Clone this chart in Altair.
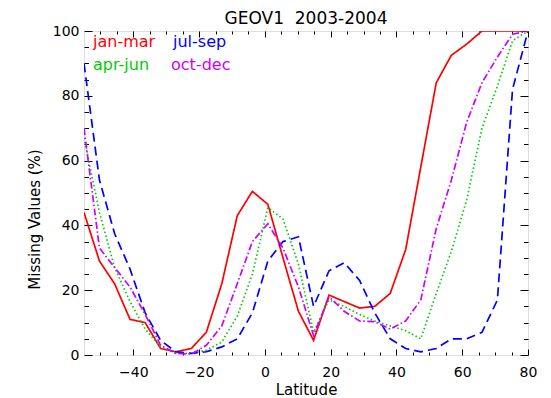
import altair as alt
import pandas as pd

# ---- data ----
lat = [-55.0, -50.3, -45.7, -41.0, -36.4, -31.7, -27.1, -22.4, -17.8, -13.1,
       -8.4, -3.8, 0.9, 5.5, 10.2, 14.8, 19.5, 24.1, 28.8, 33.4,
       38.1, 42.8, 47.4, 52.1, 56.7, 61.4, 66.0, 70.7, 75.3, 80.0]

jan_mar = [44, 29, 22, 11, 10, 2, 1, 2, 7, 22,
           43, 50.5, 46.5, 30, 13.5, 4.5, 18.5, 16.5, 14.5, 15,
           19, 32.5, 58, 84, 92.5, 96, 100, 100, 100, 100]
apr_jun = [67, 44, 27, 16.5, 8, 2.5, 0.5, 0.5, 1.5, 4,
           12, 25, 45.5, 42, 28, 7, 17, 15, 12.5, 10.5,
           9, 7.5, 5, 19, 32, 48, 70, 83, 97, 100]
jul_sep = [90, 54, 37.5, 26.5, 13, 4.5, 1, 0.5, 1, 2.5,
           5, 13, 29, 35, 36.5, 15, 26, 28.5, 23, 13,
           5, 2, 1, 2, 5, 5, 7, 17, 82, 100]
oct_dec = [70, 33, 27, 21, 12.5, 3, 0.5, 0.3, 3, 9,
           22, 35, 40.5, 33, 21, 6, 18, 13.5, 10.5, 10.3,
           8, 10.5, 17, 39, 54, 72, 84, 92, 99, 100]

seasons = ["jan-mar", "apr-jun", "jul-sep", "oct-dec"]
series = {"jan-mar": jan_mar, "apr-jun": apr_jun, "jul-sep": jul_sep, "oct-dec": oct_dec}

x_major = [-40, -20, 0, 20, 40, 60, 80]
x_minor = [-50, -45, -35, -30, -25, -15, -10, -5, 5, 10, 15, 25, 30, 35, 45, 50, 55, 65, 70, 75]
y_major = [0, 20, 40, 60, 80, 100]
y_minor = [5, 10, 15, 25, 30, 35, 45, 50, 55, 65, 70, 75, 85, 90, 95]

title_text = "GEOV1\u00a0\u00a02003-2004"

rows = []
for name in seasons:
    for la, v in zip(lat, series[name]):
        rows.append({"lat": la, "val": v, "season": name})
df = pd.DataFrame(rows)

# ---- styling ----
colors = ["#FF0000", "#00CC00", "#0000FF", "#CC00FF"]
dashes = [[1, 0], [1.5, 2.5], [9, 5], [7, 2.5, 1.5, 2.5]]
FONT = "DejaVu Sans"
W, H = 444, 324

x_scale = alt.Scale(domain=[-55, 80], nice=False, zero=False)
y_scale = alt.Scale(domain=[0, 100], nice=False, zero=False)

base = alt.Chart(df)

lines = base.mark_line(strokeWidth=1.7, clip=True).encode(
    x=alt.X("lat:Q", scale=x_scale,
            axis=alt.Axis(orient="bottom", values=x_major, ticks=False, tickSize=0,
                          domain=False, grid=False, labelFlush=False,
                          labelPadding=10, labelFontSize=14, labelFont=FONT,
                          labelColor="black",
                          title="Latitude", titleFontSize=15, titleFont=FONT,
                          titleFontWeight="normal", titlePadding=3, titleColor="black")),
    y=alt.Y("val:Q", scale=y_scale,
            axis=alt.Axis(orient="left", values=y_major, ticks=False, tickSize=0,
                          domain=False, grid=False, labelPadding=5,
                          labelFontSize=14, labelFont=FONT, labelColor="black",
                          title="Missing Values (%)", titleFontSize=15, titleFont=FONT,
                          titleFontWeight="normal", titleColor="black",
                          titleX=-42, titleY=188)),
    color=alt.Color("season:N", scale=alt.Scale(domain=seasons, range=colors), legend=None),
    strokeDash=alt.StrokeDash("season:N", scale=alt.Scale(domain=seasons, range=dashes), legend=None),
)


def tick_layer(xvals, xlen, xorient, yvals, ylen, yorient):
    return base.mark_point(opacity=0).encode(
        x=alt.X("lat:Q", scale=x_scale,
                axis=alt.Axis(orient=xorient, offset=-H, values=xvals, tickSize=xlen,
                              ticks=True, labels=False, domain=False, grid=False,
                              title=None, tickColor="black", tickWidth=1)),
        y=alt.Y("val:Q", scale=y_scale,
                axis=alt.Axis(orient=yorient, offset=-W, values=yvals, tickSize=ylen,
                              ticks=True, labels=False, domain=False, grid=False,
                              title=None, tickColor="black", tickWidth=1)),
    )


t1 = tick_layer(x_major, 6, "top", y_major, 8, "right")
t2 = tick_layer(x_major, 6, "bottom", y_major, 8, "left")
t3 = tick_layer(x_minor, 3, "top", y_minor, 4.5, "right")
t4 = tick_layer(x_minor, 3, "bottom", y_minor, 4.5, "left")

# legend labels (text only, coloured like the lines)
legend_pos = {"jan-mar": (9, 11), "jul-sep": (89, 11), "apr-jun": (9, 34), "oct-dec": (87, 34)}
legend_layers = []
for name, col in zip(seasons, colors):
    lx, ly = legend_pos[name]
    legend_layers.append(
        alt.Chart(pd.DataFrame({"label": [name]})).mark_text(
            align="left", baseline="middle", fontSize=16, font=FONT, color=col
        ).encode(x=alt.value(lx), y=alt.value(ly), text=alt.Text("label:N"))
    )

title_layer = alt.Chart(pd.DataFrame({"t": [title_text]})).mark_text(
    align="center", baseline="alphabetic", fontSize=17, font=FONT, color="black"
).encode(x=alt.value(W / 2), y=alt.value(-7), text=alt.Text("t:N"))

chart = alt.layer(lines, t1, t2, t3, t4, *legend_layers, title_layer).resolve_axis(
    x="independent", y="independent"
).properties(
    width=W, height=H,
    autosize=alt.AutoSizeParams(type="none"),
    padding={"left": 84, "top": 31, "right": 23, "bottom": 43},
).configure_view(stroke="black", strokeWidth=1).configure(background="white")

chart.save("out.html", embed_options={"renderer": "svg", "actions": False})
